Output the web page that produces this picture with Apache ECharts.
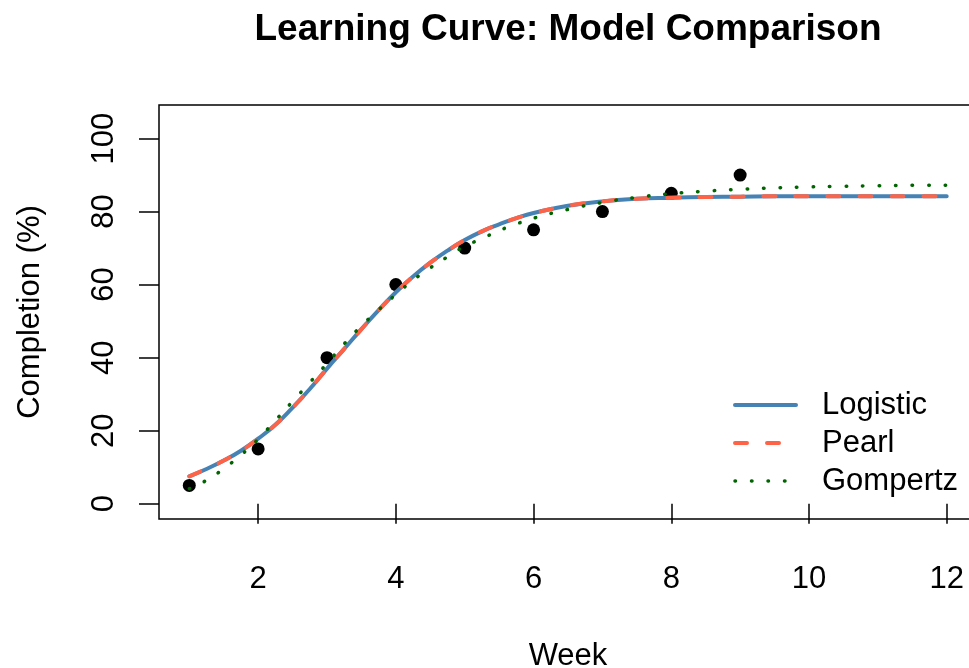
<!DOCTYPE html>
<html>
<head>
<meta charset="utf-8">
<script src="https://cdn.jsdelivr.net/npm/echarts@6/dist/echarts.min.js"></script>
<style>
  html, body { margin: 0; padding: 0; background: #ffffff; }
  #chart { width: 969px; height: 668px; }
</style>
</head>
<body>
<div id="chart"></div>
<script>
// Observed weekly completion
const weeks = [1, 2, 3, 4, 5, 6, 7, 8, 9];
const completion = [5, 15, 40, 60, 70, 75, 80, 85, 90];

// Weeks at which the fitted curves are evaluated
const fitWeeks = [1, 1.25, 1.5, 1.75, 2, 2.25, 2.5, 2.75, 3, 3.25, 3.5, 3.75, 4, 4.25, 4.5, 4.75,
                  5, 5.25, 5.5, 5.75, 6, 6.5, 7, 7.5, 8, 8.5, 9, 9.5, 10, 10.5, 11, 11.5, 12];

// Fitted model curves (%)
const logisticFit = [7.5, 9.5, 11.8, 14.5, 17.8, 21.6, 26.3, 31.4, 37.0, 42.4, 47.8, 53.0, 57.9, 62.2, 66.0, 69.3,
                     72.2, 74.6, 76.5, 78.2, 79.6, 81.6, 82.8, 83.5, 83.8, 84.0, 84.1, 84.2, 84.2, 84.2, 84.2, 84.2, 84.2];
const pearlFit    = [7.5, 9.5, 11.8, 14.5, 17.8, 21.6, 26.3, 31.4, 37.0, 42.4, 47.8, 53.0, 57.9, 62.2, 66.0, 69.3,
                     72.2, 74.6, 76.5, 78.2, 79.6, 81.6, 82.8, 83.5, 83.8, 84.0, 84.1, 84.2, 84.2, 84.2, 84.2, 84.2, 84.2];
const gompertzFit = [4.1, 6.4, 9.6, 13.3, 17.7, 22.8, 28.0, 33.2, 38.4, 43.8, 48.7, 53.1, 57.3, 61.2, 64.6, 67.6,
                     70.5, 72.6, 74.8, 76.6, 78.2, 80.6, 82.5, 83.9, 84.9, 85.6, 86.1, 86.5, 86.75, 86.95, 87.1, 87.2, 87.25];

// Axis tick labels
const xTicks = [2, 4, 6, 8, 10, 12];
const yTicks = [0, 20, 40, 60, 80, 100];

const FONT = '"Liberation Sans", Arial, Helvetica, sans-serif';
const pair = (xs, ys) => xs.map((x, i) => [x, ys[i]]);

// Line styles shared by each curve and its legend key
const logisticStyle = { color: '#4682B4', width: 4, type: 'solid', cap: 'round' };
const pearlStyle    = { color: '#FF6347', width: 4, type: [12, 20], cap: 'round' };
const gompertzStyle = { color: '#006400', width: 3.5, type: [0.5, 16], cap: 'round' };

const chart = echarts.init(document.getElementById('chart'), null, { renderer: 'canvas' });

chart.setOption({
  animation: false,
  backgroundColor: '#ffffff',
  textStyle: { fontFamily: FONT, color: '#000' },
  title: {
    text: 'Learning Curve: Model Comparison',
    left: 568,
    top: 11,
    textAlign: 'center',
    padding: 0,
    textStyle: { fontFamily: FONT, fontSize: 37, fontWeight: 'bold', color: '#000' }
  },
  grid: {
    left: 159, top: 105, width: 818, height: 414,
    containLabel: false,
    outerBoundsMode: 'none',
    show: true, borderColor: '#000', borderWidth: 1.5, backgroundColor: 'transparent'
  },
  legend: {
    orient: 'vertical',
    left: 733,
    top: 386,
    itemWidth: 61,
    itemHeight: 14,
    itemGap: 0,
    padding: 0,
    data: [
      { name: 'Logistic', lineStyle: logisticStyle },
      { name: 'Pearl', lineStyle: pearlStyle },
      { name: 'Gompertz', lineStyle: gompertzStyle }
    ],
    itemStyle: { opacity: 0 },
    textStyle: { fontFamily: FONT, fontSize: 31, color: '#000', lineHeight: 38, padding: [0, 0, 0, 21] }
  },
  xAxis: {
    type: 'value',
    min: 0.56,
    max: 12.44,
    name: 'Week',
    nameLocation: 'middle',
    nameGap: 122,
    nameTextStyle: { fontFamily: FONT, fontSize: 31, color: '#000' },
    axisLine: { show: false },
    axisTick: { show: true, inside: false, length: 20, customValues: xTicks, lineStyle: { color: '#000', width: 1.5 } },
    axisLabel: { customValues: xTicks, margin: 45, fontFamily: FONT, fontSize: 31, color: '#000' },
    splitLine: { show: false }
  },
  yAxis: {
    type: 'value',
    min: -4.2,
    max: 109.2,
    name: 'Completion (%)',
    nameLocation: 'middle',
    nameGap: 113,
    nameTextStyle: { fontFamily: FONT, fontSize: 31, color: '#000' },
    axisLine: { show: false },
    axisTick: { show: true, inside: false, length: 20, customValues: yTicks, lineStyle: { color: '#000', width: 1.5 } },
    axisLabel: { customValues: yTicks, rotate: 90, margin: 39, fontFamily: FONT, fontSize: 31, color: '#000' },
    splitLine: { show: false }
  },
  series: [
    {
      name: 'Observed',
      type: 'scatter',
      data: pair(weeks, completion),
      symbol: 'circle',
      symbolSize: 13,
      itemStyle: { color: '#000', opacity: 1 },
      z: 1
    },
    {
      name: 'Logistic',
      type: 'line',
      data: pair(fitWeeks, logisticFit),
      symbol: 'none',
      smooth: 0.5,
      color: '#4682B4',
      lineStyle: logisticStyle,
      z: 2
    },
    {
      name: 'Pearl',
      type: 'line',
      data: pair(fitWeeks, pearlFit),
      symbol: 'none',
      smooth: 0.5,
      color: '#FF6347',
      lineStyle: pearlStyle,
      z: 3
    },
    {
      name: 'Gompertz',
      type: 'line',
      data: pair(fitWeeks, gompertzFit),
      symbol: 'none',
      smooth: 0.5,
      color: '#006400',
      lineStyle: gompertzStyle,
      z: 4
    }
  ]
});
</script>
</body>
</html>
